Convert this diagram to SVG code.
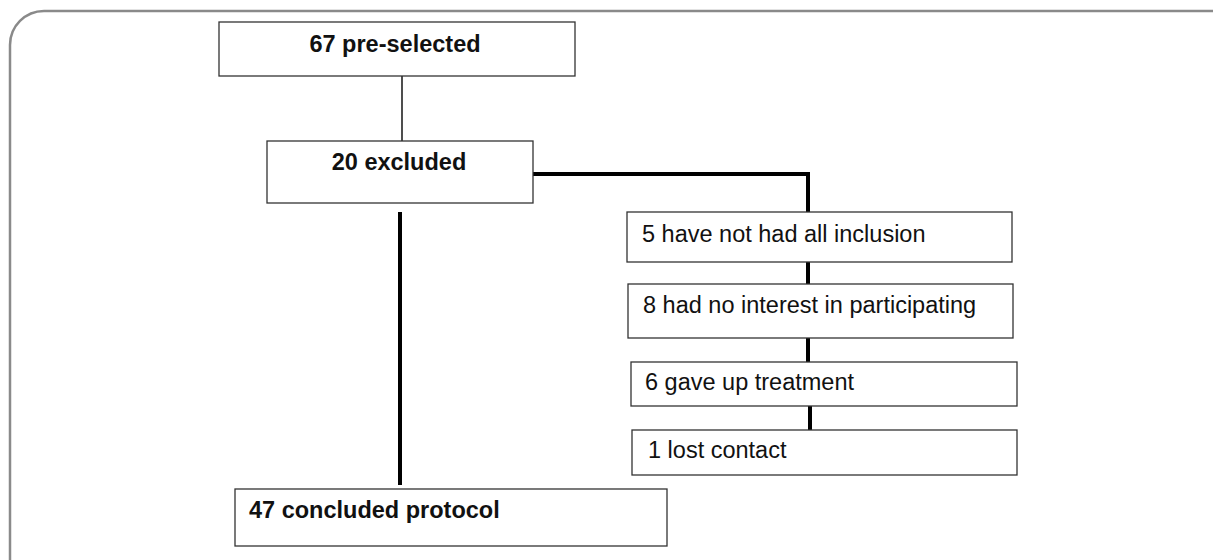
<svg xmlns="http://www.w3.org/2000/svg" width="1213" height="560" viewBox="0 0 1213 560">
<style>
.box{fill:#fff;stroke:#333;stroke-width:1.3}
.t{font-family:"Liberation Sans",Arial,sans-serif;font-size:23.5px;fill:#111}
.b{font-weight:bold}
.thin{stroke:#222;stroke-width:1.6;fill:none}
.thick{stroke:#000;stroke-width:4;fill:none}
</style>
<rect x="10" y="11" width="1240" height="600" rx="34" ry="34" fill="#fff" stroke="#8a8a8a" stroke-width="2.5"/>
<g id="connectors">
<line class="thin" x1="402" y1="76" x2="402" y2="141"/>
<polyline class="thick" points="533,174 808,174 808,212"/>
<line class="thick" x1="808" y1="262" x2="808" y2="284"/>
<line class="thick" x1="808" y1="338" x2="808" y2="362"/>
<line class="thick" x1="810" y1="406" x2="810" y2="430"/>
<line class="thick" x1="400" y1="212" x2="400" y2="485" stroke-width="5"/>
</g>
<g id="n1"><rect class="box" x="219" y="22" width="356" height="54"/><text class="t b" x="395" y="52" text-anchor="middle">67 pre-selected</text></g>
<g id="n2"><rect class="box" x="267" y="141" width="266" height="62"/><text class="t b" x="399" y="170" text-anchor="middle">20 excluded</text></g>
<g id="n3"><rect class="box" x="627" y="212" width="385" height="50"/><text class="t" x="642" y="242">5 have not had all inclusion</text></g>
<g id="n4"><rect class="box" x="628" y="284" width="385" height="54"/><text class="t" x="643" y="313">8 had no interest in participating</text></g>
<g id="n5"><rect class="box" x="631" y="362" width="386" height="44"/><text class="t" x="645" y="390">6 gave up treatment</text></g>
<g id="n6"><rect class="box" x="632" y="430" width="385" height="45"/><text class="t" x="648" y="458">1 lost contact</text></g>
<g id="n7"><rect class="box" x="235" y="489" width="432" height="57"/><text class="t b" x="249" y="518">47 concluded protocol</text></g>
</svg>
